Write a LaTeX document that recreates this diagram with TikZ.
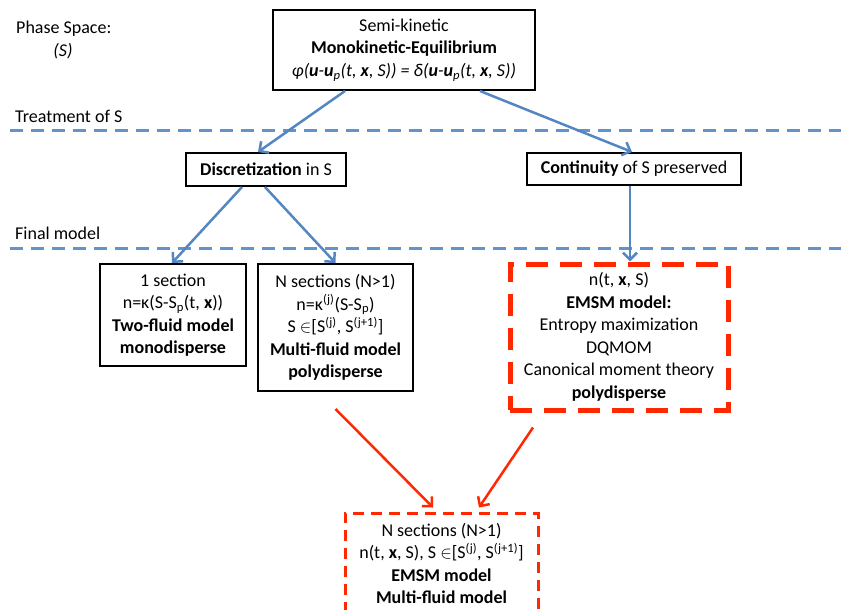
\documentclass[tikz,border=0pt]{standalone}
\usepackage{fontspec}
\setmainfont{Carlito}
\usetikzlibrary{arrows.meta}
\definecolor{arrblue}{RGB}{84,135,194}
\definecolor{dashblue}{RGB}{98,148,204}
\definecolor{myred}{RGB}{255,40,0}
\newcommand\fs{\fontsize{18}{22.5}\selectfont}
\tikzset{
  x=1pt, y=-1pt,
  box/.style={draw=black, line width=2pt, align=center, inner sep=0pt, font=\fs},
  redbox/.style={draw=myred, line width=5pt, dash pattern=on 22pt off 12pt, align=center, inner sep=0pt, font=\fs},
  redbox2/.style={draw=myred, line width=3pt, dash pattern=on 11pt off 7pt, align=center, inner sep=0pt, font=\fs},
  sepline/.style={draw=dashblue, line width=3pt, dash pattern=on 13pt off 8pt},
  lbl/.style={font=\fs, inner sep=0pt, anchor=west},
  barrow/.style={draw=arrblue, line width=2.5pt, -{Straight Barb[length=7pt,width=14pt,line width=2.5pt]}},
  rarrow/.style={draw=myred, line width=2.5pt, -{Straight Barb[length=7pt,width=14pt,line width=2.5pt]}},
}
\begin{document}
\begin{tikzpicture}
\useasboundingbox (0,0) rectangle (841,610);
\clip (0,0) rectangle (841,610);

% left labels
\node[lbl] (ps) at (16,29) {Phase Space:};
\node[font=\fs, inner sep=0pt] (pss) at (63,51) {\textit{(S)}};
\node[lbl] (tr) at (15,116) {Treatment of S};
\node[lbl] (fm) at (15,233) {Final model};

% separators
\coordinate (l1a) at (10,130); \coordinate (l1b) at (845,130);
\coordinate (l2a) at (10,248); \coordinate (l2b) at (845,248);
\draw[sepline] (l1a) -- (l1b);
\draw[sepline] (l2a) -- (l2b);

% boxes
\node[box, minimum width=262pt, minimum height=80pt] (top) at (404,50)
  {Semi-kinetic\\ \textbf{Monokinetic-Equilibrium}\\
   \textit{φ(\textbf{u}-\textbf{u}\textsubscript{p}(t, \textbf{x}, S)) = δ(\textbf{u}-\textbf{u}\textsubscript{p}(t, \textbf{x}, S))}};

\node[box, minimum width=160pt, minimum height=33pt] (disc) at (266,169.5)
  {\textbf{Discretization} in S};
\node[box, minimum width=214pt, minimum height=32pt] (cont) at (634,169)
  {\textbf{Continuity} of S preserved};

\node[box, minimum width=146pt, minimum height=102pt] (one) at (173,315)
  {1 section\\ n=κ(S-S\textsubscript{p}(t, \textbf{x}))\\ \textbf{Two-fluid model}\\ \textbf{monodisperse}};

\node[box, minimum width=155pt, minimum height=127pt] (nsec) at (335.5,327.5)
  {N sections (N>1)\\ n=κ\textsuperscript{(j)}(S-S\textsubscript{p})\\
   S $\in$[S\textsuperscript{(j)}, S\textsuperscript{(j+1)}]\\
   \textbf{Multi-fluid model}\\ \textbf{polydisperse}};

\node[redbox, minimum width=218pt, minimum height=146pt] (emsm) at (619,337)
  {n(t, \textbf{x}, S)\\ \textbf{EMSM model:}\\ Entropy maximization\\ DQMOM\\
   Canonical moment theory\\ \textbf{polydisperse}};

\node[redbox2, minimum width=193pt, minimum height=101pt] (bot) at (441.5,563.5)
  {N sections (N>1)\\ n(t, \textbf{x}, S), S $\in$[S\textsuperscript{(j)}, S\textsuperscript{(j+1)}]\\
   \textbf{EMSM model}\\ \textbf{Multi-fluid model}};

% connectors
\draw[barrow] ([xshift=-59pt]top.south) -- ([xshift=-8pt]disc.north);
\draw[barrow] ([xshift=76pt]top.south) -- ([xshift=-2pt]cont.north);
\draw[barrow] ([xshift=-4pt]cont.south) -- ([xshift=11pt]emsm.north);
\draw[barrow] ([xshift=-24pt]disc.south) -- ([xshift=-1pt]one.north);
\draw[barrow] ([xshift=-1pt]disc.south) -- ([xshift=0pt]nsec.north);

\draw[rarrow] ([yshift=-17pt]nsec.south) -- ([xshift=-8.5pt,yshift=4pt]bot.north);
\draw[rarrow] ([xshift=-86pt,yshift=-15pt]emsm.south) -- ([xshift=37.5pt,yshift=4pt]bot.north);
\end{tikzpicture}
\end{document}
